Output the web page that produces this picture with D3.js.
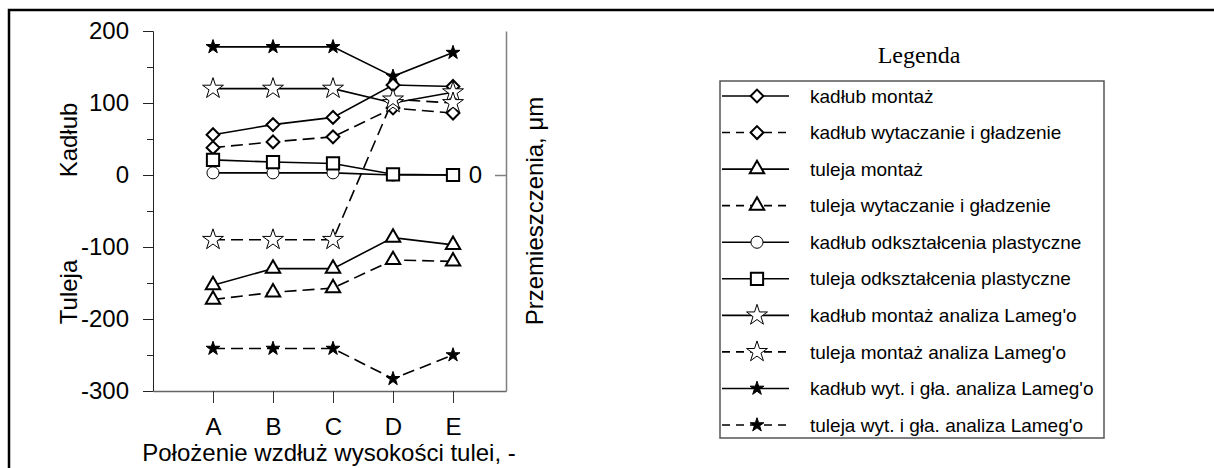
<html>
<head>
<meta charset="utf-8">
<title>Przemieszczenia</title>
<style>
  body { margin: 0; background: #fff; }
  text { font-family: Arial, "Liberation Sans", sans-serif; fill: #000; }
</style>
</head>
<body>
<svg id="chart" width="1214" height="468"></svg>
<script src="https://d3js.org/d3.v7.min.js"></script>
<script>
// categories along the sleeve height
let categories = ["A", "B", "C", "D", "E"]

// series values
let kadlubMontaz       = [56, 70, 80, 125, 123]
let kadlubWytaczanie   = [38, 46, 53, 93, 86]
let tulejaMontaz       = [-153, -130, -130, -87, -97]
let tulejaWytaczanie   = [-173, -163, -157, -118, -120]
let kadlubOdksztalcenia = [3, 3, 3, 0, 0]
let tulejaOdksztalcenia = [21, 18, 16, 1, 0]
let kadlubMontazLame   = [120, 120, 120, 100, 115]
let tulejaMontazLame   = [-90, -90, -90, 105, 100]
let kadlubWytLame      = [178, 178, 178, 137, 170]
let tulejaWytLame      = [-241, -241, -241, -283, -250]

let yTicks = [-300, -200, -100, 0, 100, 200]
let yMinorTicks = [-250, -150, -50, 50, 150]

let series = [
  {name: "kadłub montaż", values: kadlubMontaz, marker: "diamond", dashed: false},
  {name: "kadłub wytaczanie i gładzenie", values: kadlubWytaczanie, marker: "diamond", dashed: true},
  {name: "tuleja montaż", values: tulejaMontaz, marker: "triangle", dashed: false},
  {name: "tuleja wytaczanie i gładzenie", values: tulejaWytaczanie, marker: "triangle", dashed: true},
  {name: "kadłub odkształcenia plastyczne", values: kadlubOdksztalcenia, marker: "circle", dashed: false},
  {name: "tuleja odkształcenia plastyczne", values: tulejaOdksztalcenia, marker: "square", dashed: false},
  {name: "kadłub montaż analiza Lameg'o", values: kadlubMontazLame, marker: "openStar", dashed: false},
  {name: "tuleja montaż analiza Lameg'o", values: tulejaMontazLame, marker: "openStar", dashed: true},
  {name: "kadłub wyt. i gła. analiza Lameg'o", values: kadlubWytLame, marker: "filledStar", dashed: false},
  {name: "tuleja wyt. i gła. analiza Lameg'o", values: tulejaWytLame, marker: "filledStar", dashed: true}
]

let svg = d3.select("#chart")

// outer frame (runs past right and bottom edge)
svg.append("rect")
   .attr("x", 9).attr("y", 10)
   .attr("width", 1220).attr("height", 480)
   .attr("fill", "none").attr("stroke", "#000").attr("stroke-width", 2.5)

let x = d3.scaleLinear().domain([-1, 4.883]).range([153, 506])
let y = d3.scaleLinear().domain([-300, 200]).range([391, 31])

// marker shapes
let markerStyle = {
  diamond:    {type: d3.symbolDiamond2, size: 105, fill: "#fff", sw: 2},
  triangle:   {type: d3.symbolTriangle, size: 90,  fill: "#fff", sw: 2},
  circle:     {type: d3.symbolCircle,   size: 115, fill: "#fff", sw: 1},
  square:     {type: d3.symbolSquare,   size: 150, fill: "#fff", sw: 2},
  openStar:   {type: d3.symbolStar,     size: 135, fill: "#fff", sw: 1},
  filledStar: {type: d3.symbolStar,     size: 60,  fill: "#000", sw: 1}
}
function markerPath(m) {
  return d3.symbol().type(markerStyle[m].type).size(markerStyle[m].size)()
}

// left axis
let leftAxis = svg.append("g")
   .attr("transform", "translate(153,0)")
   .call(d3.axisLeft(y).tickValues(yTicks).tickSize(10).tickSizeOuter(0).tickPadding(14)
           .tickFormat(d => String(d)))
leftAxis.selectAll("text").style("font-size", "24px")
leftAxis.selectAll("line, path").attr("stroke", "#222")

svg.append("g")
   .attr("transform", "translate(153,0)")
   .call(d3.axisLeft(y).tickValues(yMinorTicks).tickSize(6).tickSizeOuter(0).tickFormat(""))
   .selectAll("line, path").attr("stroke", "#222")

// right axis
let rightAxis = svg.append("g")
   .attr("transform", "translate(506,0)")
   .call(d3.axisLeft(y).tickValues([0]).tickSize(11).tickSizeOuter(0).tickPadding(13))
rightAxis.selectAll("text").style("font-size", "24px")
rightAxis.selectAll("line, path").attr("stroke", "#808080").attr("stroke-width", 1.5)

// bottom axis
let bottomAxis = svg.append("g")
   .attr("transform", "translate(0,391)")
   .call(d3.axisBottom(x).tickValues(d3.range(categories.length)).tickSize(12).tickSizeOuter(0)
           .tickFormat(i => categories[i]))
bottomAxis.selectAll("text").attr("y", 44).attr("dy", 0).style("font-size", "24px")
bottomAxis.selectAll("line").attr("stroke", "#333")
bottomAxis.select("path").attr("stroke", "#666").attr("stroke-width", 1.5)

// axis titles
svg.append("text").attr("transform", "translate(77,140) rotate(-90)")
   .attr("text-anchor", "middle").style("font-size", "24px").text("Kadłub")
svg.append("text").attr("transform", "translate(77,292) rotate(-90)")
   .attr("text-anchor", "middle").style("font-size", "24px").text("Tuleja")
svg.append("text").attr("transform", "translate(543,211) rotate(-90)")
   .attr("text-anchor", "middle").style("font-size", "24px").text("Przemieszczenia, μm")
svg.append("text").attr("x", 329).attr("y", 461)
   .attr("text-anchor", "middle").style("font-size", "24px").text("Położenie wzdłuż wysokości tulei, -")

// lines and markers
let line = d3.line().x((d, i) => x(i)).y(d => y(d))
let plot = svg.append("g")
plot.selectAll("path.series")
    .data(series)
    .join("path")
    .attr("class", "series")
    .attr("d", d => line(d.values))
    .attr("fill", "none")
    .attr("stroke", "#000")
    .attr("stroke-width", 1.6)
    .attr("stroke-dasharray", d => d.dashed ? "12,6" : null)

series.forEach(s => {
  plot.selectAll(null)
      .data(s.values)
      .join("path")
      .attr("transform", (d, i) => `translate(${x(i)},${y(d)})`)
      .attr("d", markerPath(s.marker))
      .attr("fill", markerStyle[s.marker].fill)
      .attr("stroke", "#000")
      .attr("stroke-width", markerStyle[s.marker].sw)
})

// legend
svg.append("text").attr("x", 919).attr("y", 63)
   .attr("text-anchor", "middle")
   .style("font-family", "'Liberation Serif', 'Times New Roman', serif")
   .style("font-size", "24px").text("Legenda")

svg.append("rect")
   .attr("x", 720).attr("y", 81).attr("width", 384).attr("height", 357)
   .attr("fill", "none").attr("stroke", "#555").attr("stroke-width", 1.5)

let rowY = d3.scalePoint().domain(series.map(s => s.name)).range([96, 425])
let legend = svg.append("g").selectAll("g")
   .data(series).join("g")
   .attr("transform", d => `translate(0,${rowY(d.name)})`)
legend.append("line")
   .attr("x1", 722).attr("x2", 789).attr("y1", 0).attr("y2", 0)
   .attr("stroke", "#000").attr("stroke-width", 1.6)
   .attr("stroke-dasharray", d => d.dashed ? "8,6" : null)
legend.append("path")
   .attr("transform", "translate(757,0)")
   .attr("d", d => markerPath(d.marker))
   .attr("fill", d => markerStyle[d.marker].fill)
   .attr("stroke", "#000")
   .attr("stroke-width", d => markerStyle[d.marker].sw)
legend.append("text")
   .attr("x", 810).attr("y", 0).attr("dy", "0.35em")
   .style("font-size", "19px")
   .text(d => d.name)
</script>
</body>
</html>
